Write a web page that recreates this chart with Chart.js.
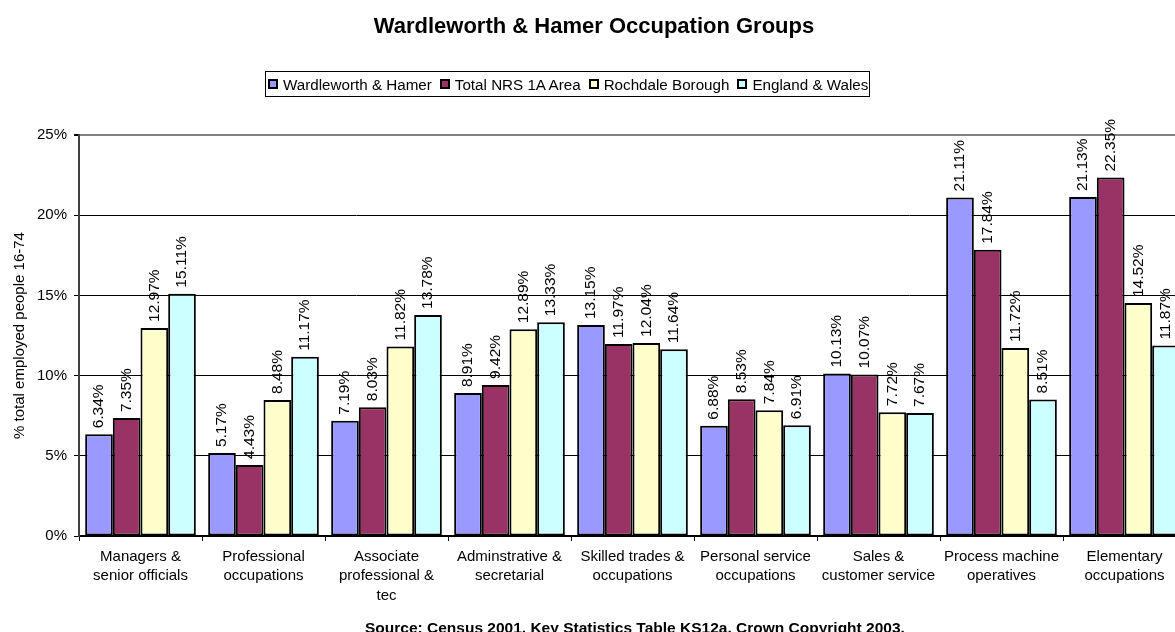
<!DOCTYPE html>
<html>
<head>
<meta charset="utf-8">
<script src="https://cdn.jsdelivr.net/npm/chart.js@4/dist/chart.umd.min.js"></script>
<style>
    html, body { margin: 0; padding: 0; background: #fff; overflow: hidden; }
    #wrap { position: relative; width: 1175px; height: 632px; overflow: hidden; font-family: 'Liberation Sans', Arial, sans-serif; }
    #chartBox { position: absolute; left: 0; top: 0; width: 1200px; height: 632px; }
    #title { position: absolute; left: 0; width: 1188px; top: 13px; text-align: center; font-weight: bold; font-size: 22px; line-height: 26px; }
    #legend { position: absolute; left: 265px; top: 71px; width: 601px; height: 24px; border: 1px solid #000; display: flex; align-items: center; font-size: 15.2px; box-sizing: content-box; padding-left: 2px; }
    .lg { display: flex; align-items: center; margin-right: 8px; white-space: nowrap; }
    .sw { width: 6px; height: 6px; border: 2px solid #000; margin-right: 5px; }
    #source { position: absolute; left: 365px; top: 619px; font-weight: bold; font-size: 15.5px; line-height: 17px; white-space: nowrap; }
</style>
</head>
<body>
<div id="wrap">
    <div id="chartBox"><canvas id="occChart" width="1200" height="632"></canvas></div>
    <div id="title">Wardleworth &amp; Hamer Occupation Groups</div>
    <div id="legend"></div>
    <div id="source">Source: Census 2001, Key Statistics Table KS12a, Crown Copyright 2003.</div>
</div>
<script>
const categories = [
    ['Managers &', 'senior officials'],
    ['Professional', 'occupations'],
    ['Associate', 'professional &', 'tec'],
    ['Adminstrative &', 'secretarial'],
    ['Skilled trades &', 'occupations'],
    ['Personal service', 'occupations'],
    ['Sales &', 'customer service'],
    ['Process machine', 'operatives'],
    ['Elementary', 'occupations']
];
const seriesNames = ['Wardleworth & Hamer', 'Total NRS 1A Area', 'Rochdale Borough', 'England & Wales'];
const seriesColors = ['#9999FF', '#993366', '#FFFFCC', '#CCFFFF'];

const wardleworth = [6.34, 5.17, 7.19, 8.91, 13.15, 6.88, 10.13, 21.11, 21.13];
const nrsArea     = [7.35, 4.43, 8.03, 9.42, 11.97, 8.53, 10.07, 17.84, 22.35];
const rochdale    = [12.97, 8.48, 11.82, 12.89, 12.04, 7.84, 7.72, 11.72, 14.52];
const englandWales = [15.11, 11.17, 13.78, 13.33, 11.64, 6.91, 7.67, 8.51, 11.87];

const seriesValues = [wardleworth, nrsArea, rochdale, englandWales];

const FONT = 'Liberation Sans';

// legend (html, boxed like the original)
const legendEl = document.getElementById('legend');
seriesNames.forEach((n, i) => {
    const it = document.createElement('div');
    it.className = 'lg';
    const sw = document.createElement('span');
    sw.className = 'sw';
    sw.style.background = seriesColors[i];
    const tx = document.createElement('span');
    tx.textContent = n;
    it.appendChild(sw); it.appendChild(tx);
    legendEl.appendChild(it);
});

// rotated value labels above each bar
const valueLabels = {
    id: 'valueLabels',
    afterDatasetsDraw(chart) {
        const ctx = chart.ctx;
        ctx.save();
        ctx.font = '15.5px ' + FONT;
        ctx.fillStyle = '#000';
        ctx.textAlign = 'left';
        ctx.textBaseline = 'middle';
        chart.data.datasets.forEach((ds, di) => {
            chart.getDatasetMeta(di).data.forEach((bar, i) => {
                ctx.save();
                ctx.translate(bar.x, bar.y - 6);
                ctx.rotate(-Math.PI / 2);
                ctx.fillText(ds.data[i].toFixed(2) + '%', 0, 0);
                ctx.restore();
            });
        });
        ctx.restore();
    }
};

new Chart(document.getElementById('occChart').getContext('2d'), {
    type: 'bar',
    data: {
        labels: categories,
        datasets: seriesNames.map((n, i) => ({
            label: n,
            data: seriesValues[i],
            backgroundColor: seriesColors[i],
            borderColor: '#000',
            borderWidth: 2,
            borderSkipped: false,
            categoryPercentage: 0.9,
            barPercentage: 1.0
        }))
    },
    options: {
        animation: false, responsive: false,
        layout: { padding: { top: 135, right: 14, left: 0, bottom: 0 } },
        plugins: { legend: { display: false }, title: { display: false }, tooltip: { enabled: false } },
        scales: {
            x: {
                afterFit: (s) => { s.height = 96; },
                ticks: { color: '#000', font: { family: FONT, size: 15, lineHeight: 1.3 }, padding: 6, maxRotation: 0, autoSkip: false },
                grid: { offset: true, drawOnChartArea: false, tickLength: 5, color: '#000' },
                border: { color: '#000', width: 2 }
            },
            y: {
                min: 0, max: 25,
                afterFit: (s) => { s.width = 79; },
                ticks: { stepSize: 5, color: '#000', font: { family: FONT, size: 15 }, padding: 7, callback: (v) => v + '%' },
                grid: {
                    color: (c) => c.tick && c.tick.value === 25 ? '#808080' : '#000',
                    lineWidth: (c) => c.tick && c.tick.value === 25 ? 2 : 1,
                    tickColor: '#000', tickLength: 5
                },
                border: { color: '#404040', width: 2 },
                title: { display: true, text: '% total employed people 16-74', color: '#000', font: { family: FONT, size: 15 }, padding: { top: 11 } }
            }
        }
    },
    plugins: [valueLabels]
});
</script>
</body>
</html>
